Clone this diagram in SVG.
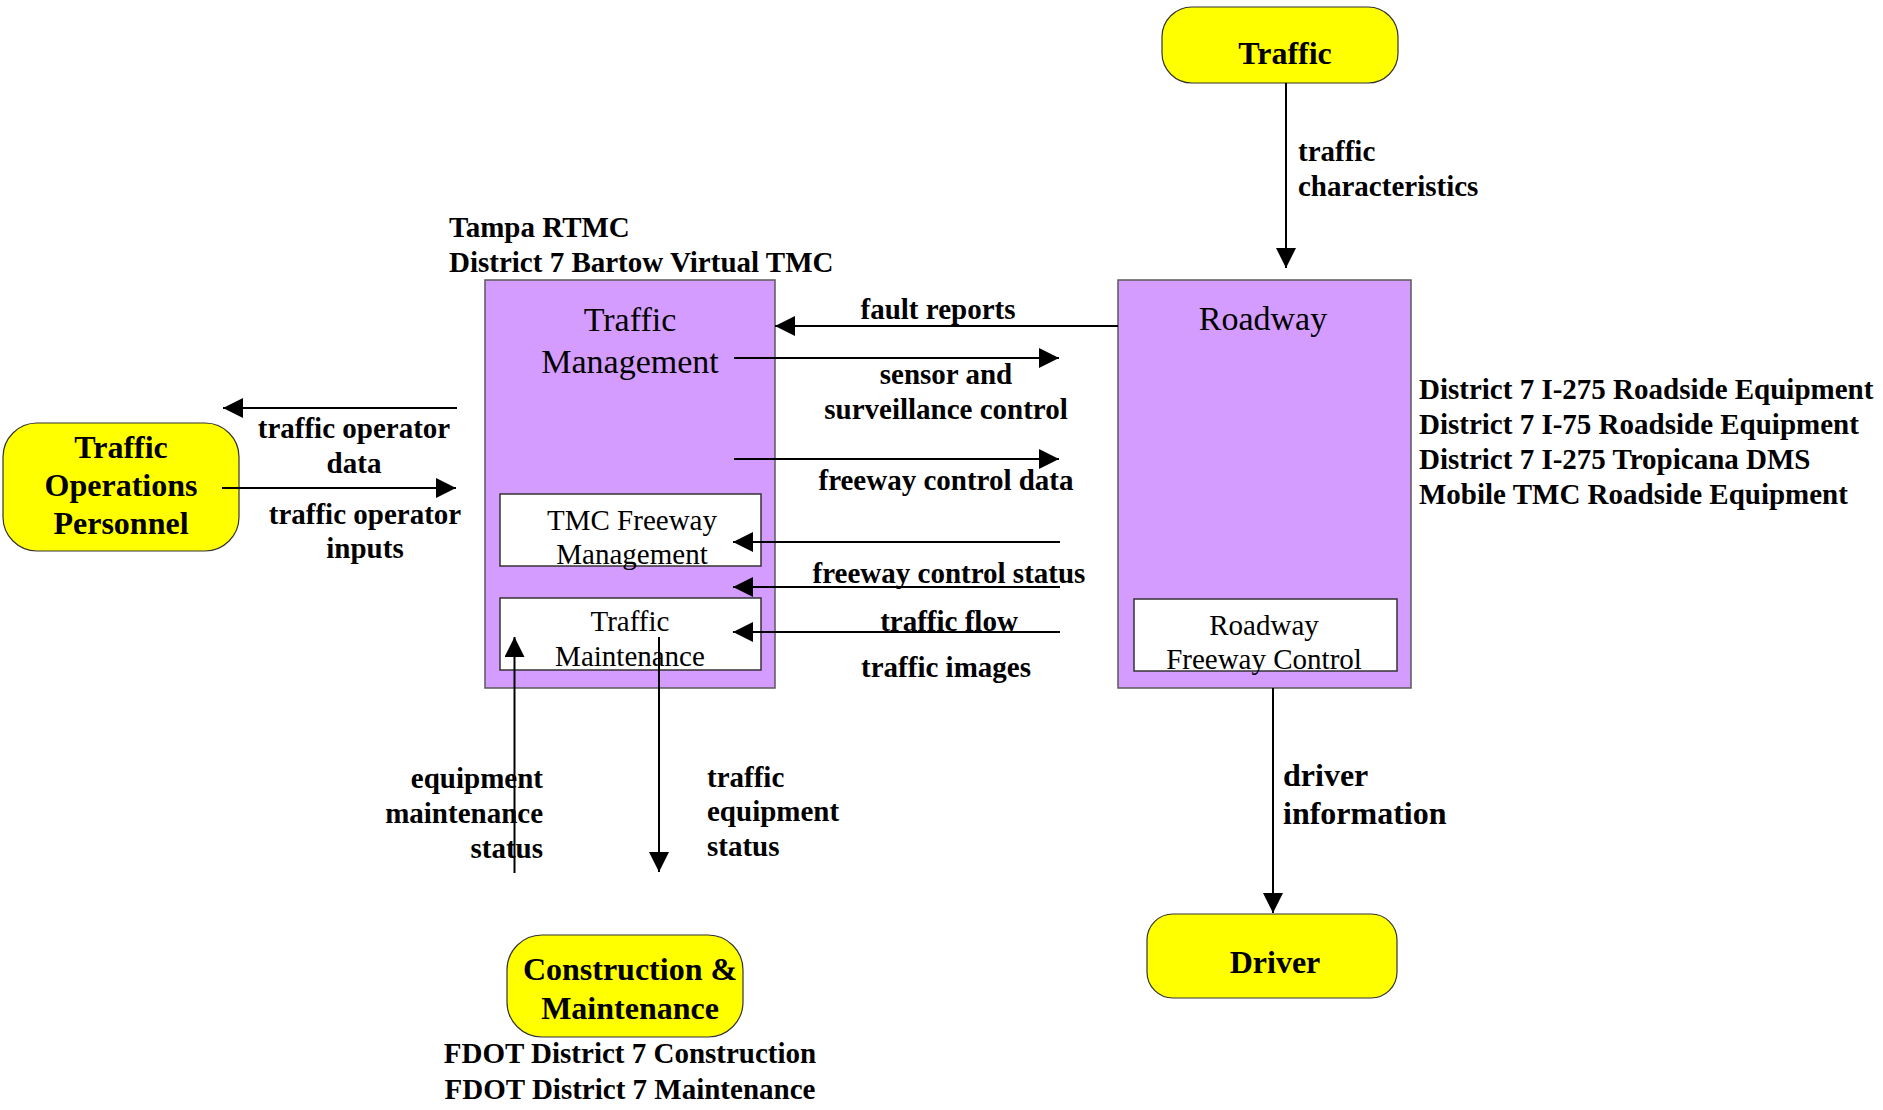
<svg xmlns="http://www.w3.org/2000/svg" width="1883" height="1110" viewBox="0 0 1883 1110">
<style>
.bg{fill:#ffffff}
.ext{fill:#ffff00;stroke:#333333;stroke-width:1.2}
.sys{fill:#d49cff;stroke:#5a5a5a;stroke-width:1.5}
.sub{fill:#ffffff;stroke:#333333;stroke-width:1.5}
.lbl{font-family:"Liberation Serif","Times New Roman",serif;font-weight:bold;font-size:29px;fill:#000}
.ename{font-family:"Liberation Serif","Times New Roman",serif;font-weight:bold;font-size:32px;fill:#000}
.title{font-family:"Liberation Serif","Times New Roman",serif;font-size:34px;fill:#000}
.subt{font-family:"Liberation Serif","Times New Roman",serif;font-size:29px;fill:#000}
.c{text-anchor:middle}
.e{text-anchor:end}
.flow{fill:none;stroke:#000;stroke-width:2;marker-end:url(#ah)}
</style>
<defs>
<marker id="ah" markerUnits="userSpaceOnUse" markerWidth="20" markerHeight="20" refX="20" refY="10" orient="auto" viewBox="0 0 20 20">
<path d="M0,0 L20,10 L0,20 z" fill="#000"/>
</marker>
</defs>
<rect class="bg" x="0" y="0" width="1883" height="1110"/>

<g id="traffic">
<rect class="ext" x="1162" y="7" width="236" height="76" rx="30" ry="30"/>
<text class="ename c" x="1285" y="64">Traffic</text>
</g>

<g id="traffic-operations-personnel">
<rect class="ext" x="3" y="423" width="236" height="128" rx="34" ry="34"/>
<text class="ename c" x="121" y="458">Traffic</text>
<text class="ename c" x="121" y="496">Operations</text>
<text class="ename c" x="121" y="534">Personnel</text>
</g>

<g id="construction-maintenance">
<rect class="ext" x="507" y="935" width="236" height="102" rx="35" ry="35"/>
<text class="ename c" x="630" y="980">Construction &amp;</text>
<text class="ename c" x="630" y="1019">Maintenance</text>
<text class="lbl c" x="630" y="1063">FDOT District 7 Construction</text>
<text class="lbl c" x="630" y="1099">FDOT District 7 Maintenance</text>
</g>

<g id="driver">
<rect class="ext" x="1147" y="914" width="250" height="84" rx="26" ry="26"/>
<text class="ename c" x="1275" y="973">Driver</text>
</g>

<g id="traffic-management">
<text class="lbl" x="449" y="237">Tampa RTMC</text>
<text class="lbl" x="449" y="272">District 7 Bartow Virtual TMC</text>
<rect class="sys" x="485" y="280" width="290" height="408"/>
<text class="title c" x="630" y="331">Traffic</text>
<text class="title c" x="630" y="373">Management</text>
<g id="tmc-freeway-management">
<rect class="sub" x="500" y="494" width="261" height="72"/>
<text class="subt c" x="632" y="530">TMC Freeway</text>
<text class="subt c" x="632" y="564">Management</text>
</g>
<g id="traffic-maintenance">
<rect class="sub" x="500" y="598" width="261" height="72"/>
<text class="subt c" x="630" y="631">Traffic</text>
<text class="subt c" x="630" y="666">Maintenance</text>
</g>
</g>

<g id="roadway">
<rect class="sys" x="1118" y="280" width="293" height="408"/>
<text class="title c" x="1263" y="330">Roadway</text>
<g id="roadway-freeway-control">
<rect class="sub" x="1134" y="599" width="263" height="72"/>
<text class="subt c" x="1264" y="635">Roadway</text>
<text class="subt c" x="1264" y="669">Freeway Control</text>
</g>
<text class="lbl" x="1419" y="399">District 7 I-275 Roadside Equipment</text>
<text class="lbl" x="1419" y="434">District 7 I-75 Roadside Equipment</text>
<text class="lbl" x="1419" y="469">District 7 I-275 Tropicana DMS</text>
<text class="lbl" x="1419" y="504">Mobile TMC Roadside Equipment</text>
</g>

<g id="connectors">
<path class="flow" d="M1286,83 L1286,268"/>
<path class="flow" d="M1118,326 L775,326"/>
<path class="flow" d="M734,358 L1059,358"/>
<path class="flow" d="M734,459 L1059,459"/>
<path class="flow" d="M1060,542 L733,542"/>
<path class="flow" d="M1060,587 L733,587"/>
<path class="flow" d="M1060,632 L733,632"/>
<path class="flow" d="M457,408 L223,408"/>
<path class="flow" d="M222,488 L456,488"/>
<path class="flow" d="M514.5,873 L514.5,637"/>
<path class="flow" d="M659,637 L659,872"/>
<path class="flow" d="M1273,688 L1273,913"/>
</g>

<g id="connector-labels">
<text class="lbl" x="1298" y="161">traffic</text>
<text class="lbl" x="1298" y="196">characteristics</text>
<text class="lbl c" x="938" y="319">fault reports</text>
<text class="lbl c" x="946" y="384">sensor and</text>
<text class="lbl c" x="946" y="419">surveillance control</text>
<text class="lbl c" x="946" y="490">freeway control data</text>
<text class="lbl c" x="949" y="583">freeway control status</text>
<text class="lbl c" x="949" y="631">traffic flow</text>
<text class="lbl c" x="946" y="677">traffic images</text>
<text class="lbl c" x="354" y="438">traffic operator</text>
<text class="lbl c" x="354" y="473">data</text>
<text class="lbl c" x="365" y="524">traffic operator</text>
<text class="lbl c" x="365" y="558">inputs</text>
<text class="lbl e" x="543" y="788">equipment</text>
<text class="lbl e" x="543" y="823">maintenance</text>
<text class="lbl e" x="543" y="858">status</text>
<text class="lbl" x="707" y="787">traffic</text>
<text class="lbl" x="707" y="821">equipment</text>
<text class="lbl" x="707" y="856">status</text>
<text class="ename" x="1283" y="786">driver</text>
<text class="ename" x="1283" y="824">information</text>
</g>
</svg>
